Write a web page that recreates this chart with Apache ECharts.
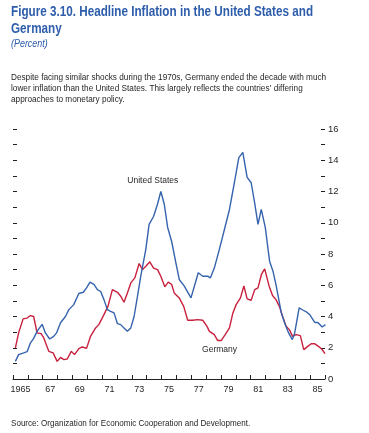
<!DOCTYPE html>
<html><head><meta charset="utf-8">
<script src="https://cdn.jsdelivr.net/npm/echarts@6/dist/echarts.min.js"></script>
<style>html,body{margin:0;padding:0;background:#fff}#c{width:369px;height:433px}</style>
</head><body><div id="c"></div>
<script>
// Year labels (category axis, one per year)
var years = [1965,1966,1967,1968,1969,1970,1971,1972,1973,1974,1975,1976,1977,1978,1979,1980,1981,1982,1983,1984,1985];
var yearLabels = ["1965","","67","","69","","71","","73","","75","","77","","79","","81","","83","","85"];
var yTicks = [0,2,4,6,8,10,12,14,16];

// United States: time (year fraction) and headline inflation (percent)
var usTime = [1965.16,1965.38,1965.72,1965.95,1966.17,1966.39,1966.62,1966.96,1967.18,1967.47,1967.74,1967.93,1968.2,1968.53,1968.76,1969.09,1969.43,1969.73,1969.95,1970.18,1970.45,1970.68,1970.9,1971.12,1971.35,1971.57,1971.8,1972.03,1972.25,1972.47,1972.7,1972.93,1973.15,1973.38,1973.6,1973.94,1974.16,1974.46,1974.73,1974.95,1975.18,1975.41,1975.68,1975.97,1976.19,1976.53,1976.98,1977.47,1977.77,1978.11,1978.28,1978.55,1978.89,1979.23,1979.57,1979.9,1980.2,1980.47,1980.76,1981.03,1981.26,1981.49,1981.71,1981.98,1982.27,1982.5,1982.72,1983.06,1983.28,1983.55,1983.8,1983.96,1984.26,1984.53,1984.75,1984.97,1985.31,1985.54,1985.81,1986.03];
var usValue = [1.13,1.56,1.67,1.75,2.3,2.6,3.05,3.5,2.95,2.56,2.73,2.95,3.6,4.0,4.44,4.76,5.47,5.55,5.83,6.2,6.05,5.72,5.6,5.08,4.44,4.33,4.23,3.54,3.48,3.27,3.05,3.27,4.0,5.3,6.58,8.3,9.9,10.4,11.2,12.0,11.2,9.7,8.8,7.4,6.37,5.94,5.19,6.8,6.58,6.58,6.47,7.1,8.3,9.57,10.85,12.56,14.17,14.5,12.9,12.56,11.3,9.9,10.85,9.7,7.54,6.9,5.94,4.23,3.6,2.95,2.52,2.95,4.55,4.4,4.29,4.12,3.63,3.6,3.33,3.48];

// Germany
var deTime = [1965.16,1965.38,1965.68,1965.95,1966.17,1966.39,1966.62,1966.89,1967.07,1967.41,1967.7,1967.97,1968.2,1968.42,1968.65,1968.92,1969.14,1969.43,1969.66,1969.95,1970.22,1970.56,1970.78,1971.12,1971.39,1971.69,1972.03,1972.25,1972.47,1972.7,1972.93,1973.2,1973.49,1973.72,1973.94,1974.21,1974.46,1974.73,1974.95,1975.22,1975.45,1975.68,1975.85,1976.19,1976.49,1976.76,1977.09,1977.43,1977.77,1978.06,1978.22,1978.55,1978.78,1979.01,1979.28,1979.57,1979.8,1980.02,1980.31,1980.54,1980.76,1981.03,1981.27,1981.49,1981.72,1981.94,1982.24,1982.47,1982.7,1982.93,1983.15,1983.38,1983.6,1983.82,1984.05,1984.34,1984.57,1984.84,1985.07,1985.29,1985.56,1985.78,1986.0];
var deValue = [1.99,2.95,3.85,3.9,4.06,4.0,2.95,2.9,2.63,1.77,1.67,1.13,1.38,1.24,1.28,1.77,1.56,1.94,2.05,1.96,2.73,3.27,3.48,4.12,4.65,5.72,5.55,5.3,4.91,5.51,6.15,6.47,7.39,7.0,7.22,7.5,7.1,7.0,6.58,5.9,6.2,6.05,5.51,5.19,4.65,3.76,3.76,3.8,3.76,3.37,3.05,2.84,2.46,2.46,2.84,3.27,4.23,4.76,5.19,5.95,5.13,5.04,5.72,5.83,6.69,7.05,5.94,5.34,5.08,4.65,4.0,3.37,3.16,2.73,2.84,2.78,1.88,2.09,2.26,2.26,2.09,1.92,1.62];

// Text blocks
var titleLines = ['Figure 3.10. Headline Inflation in the United States and', 'Germany'];
var subtitle = '(Percent)';
var noteLines = ['Despite facing similar shocks during the 1970s, Germany ended the decade with much',
                 'lower inflation than the United States. This largely reflects the countries\u2019 differing',
                 'approaches to monetary policy.'];
var sourceText = 'Source: Organization for Economic Cooperation and Development.';

function pairs(t, v){ return t.map(function(x,i){ return [x, v[i]]; }); }

var FONT = '"Liberation Sans", Arial, sans-serif';
var BLUE_T = '#2d5dab';
var INK = '#231f20';

function txt(s, x, y, font, color, sx){
  return {type: 'text', x: x, y: y, scaleX: sx, scaleY: 1, silent: true,
          style: {text: s, font: font, fill: color, textAlign: 'left', textVerticalAlign: 'middle'}};
}
var graphics = [];
graphics.push(txt(titleLines[0], 11, 11.8, 'bold 14px ' + FONT, BLUE_T, 0.835));
graphics.push(txt(titleLines[1], 11, 29, 'bold 14px ' + FONT, BLUE_T, 0.835));
graphics.push(txt(subtitle, 11, 44.5, 'italic 10.5px ' + FONT, BLUE_T, 0.85));
noteLines.forEach(function(s, i){ graphics.push(txt(s, 11, 77 + i * 11.2, '9.5px ' + FONT, INK, 0.865)); });
graphics.push(txt(sourceText, 11, 423, '9.5px ' + FONT, INK, 0.85));

var chart = echarts.init(document.getElementById('c'), null, {renderer:'canvas'});
chart.setOption({
  animation: false,
  backgroundColor: '#fff',
  graphic: graphics,
  grid: {left: 13, right: 44, top: 129, bottom: 54, containLabel: false},
  xAxis: [
    {type: 'value', min: 1965, max: 1986, show: false},
    {type: 'category', data: years, boundaryGap: true, position: 'bottom',
     axisLine: {show: true, lineStyle: {color: INK, width: 1}},
     axisTick: {show: true, inside: true, length: 4, interval: 0, lineStyle: {color: INK}},
     axisLabel: {interval: 0, margin: 6, color: INK, fontFamily: FONT, fontSize: 9,
       formatter: function(v, i){ return yearLabels[i]; }},
     splitLine: {show: false}}
  ],
  yAxis: [
    {type: 'value', position: 'right', min: 0, max: 16, interval: 1,
     axisLine: {show: false}, splitLine: {show: false},
     axisTick: {show: true, inside: true, length: 4, lineStyle: {color: INK}},
     axisLabel: {margin: 3, color: INK, fontFamily: FONT, fontSize: 9.5,
       formatter: function(v){ return yTicks.indexOf(v) >= 0 ? String(v) : ''; }}},
    {type: 'value', position: 'left', min: 0, max: 16, interval: 1,
     axisLine: {show: false}, splitLine: {show: false},
     axisTick: {show: true, inside: true, length: 4, lineStyle: {color: INK}},
     axisLabel: {show: false}}
  ],
  series: [
    {name: 'United States', type: 'line', xAxisIndex: 0, yAxisIndex: 0, data: pairs(usTime, usValue),
     showSymbol: false, symbol: 'none', lineStyle: {color: '#3563ad', width: 1.4}, z: 3,
     markPoint: {symbol: 'circle', symbolSize: 0, silent: true,
       label: {show: true, formatter: 'United States', position: 'inside', color: INK, fontFamily: FONT, fontSize: 8.5},
       data: [{coord: [1974.41, 12.67]}]}},
    {name: 'Germany', type: 'line', xAxisIndex: 0, yAxisIndex: 0, data: pairs(deTime, deValue),
     showSymbol: false, symbol: 'none', lineStyle: {color: '#c8203d', width: 1.4}, z: 2,
     markPoint: {symbol: 'circle', symbolSize: 0, silent: true,
       label: {show: true, formatter: 'Germany', position: 'inside', color: INK, fontFamily: FONT, fontSize: 8.5},
       data: [{coord: [1978.9, 1.88]}]}}
  ]
});
</script></body></html>
